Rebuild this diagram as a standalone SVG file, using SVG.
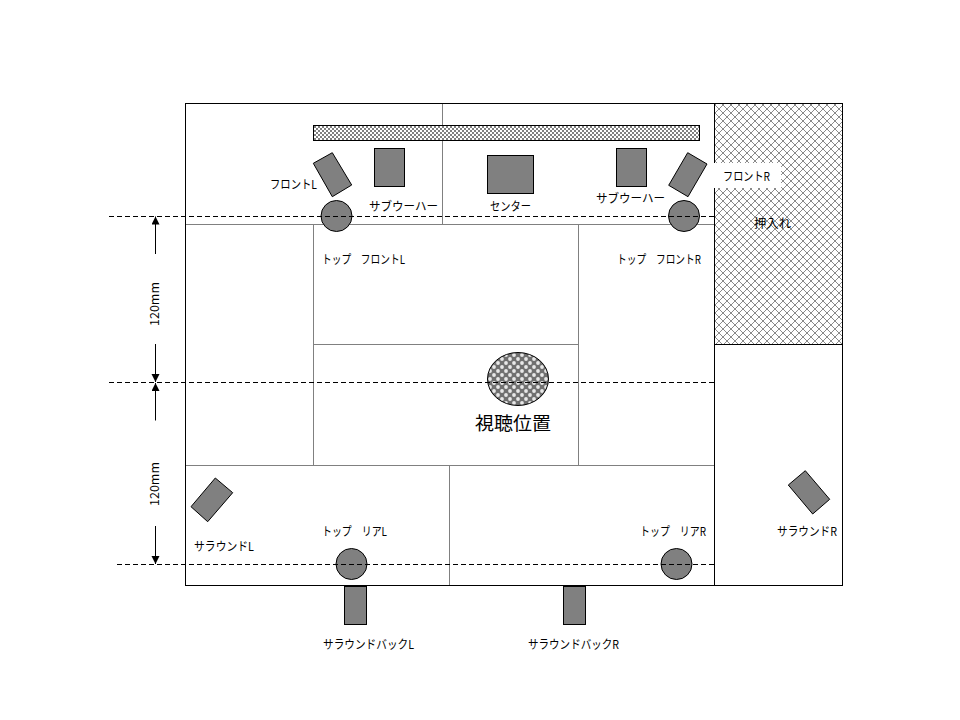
<svg xmlns="http://www.w3.org/2000/svg" width="960" height="720" viewBox="0 0 960 720">
<style>
text{font-family:"Noto Sans CJK JP","Liberation Sans",sans-serif;font-size:12px;fill:#000}
.wall{fill:none;stroke:#000;stroke-width:1}
.thin{fill:none;stroke:#808080;stroke-width:1}
.spk{fill:#808080;stroke:#000;stroke-width:1}
.dash{fill:none;stroke:#000;stroke-width:1;stroke-dasharray:5 3}
.dim{fill:none;stroke:#000;stroke-width:1;marker-end:url(#tip)}
</style>
<defs>
<marker id="tip" markerUnits="userSpaceOnUse" markerWidth="9" markerHeight="9" refX="8" refY="4" orient="auto"><path d="M0 0L8 4L0 8Z" fill="#000"/></marker>
<pattern id="hatch" patternUnits="userSpaceOnUse" x="715" y="105" width="8" height="8">
<rect width="8" height="8" fill="#fff"/>
<path d="M0 0h1v1H0zM1 1h1v1H1zM2 2h1v1H2zM3 3h1v1H3zM4 4h1v1H4zM5 5h1v1H5zM6 6h1v1H6zM7 7h1v1H7zM7 0h1v1H7zM6 1h1v1H6zM5 2h1v1H5zM4 3h1v1H4zM3 4h1v1H3zM2 5h1v1H2zM1 6h1v1H1zM0 7h1v1H0z" fill="#8a8a8a"/>
</pattern>
<pattern id="check" patternUnits="userSpaceOnUse" x="314" y="126" width="4" height="4">
<rect width="4" height="4" fill="#fff"/>
<path d="M0 0h2v2H0zM2 2h2v2H2z" fill="#808080"/>
</pattern>
<pattern id="dots" patternUnits="userSpaceOnUse" x="488" y="353" width="8" height="8">
<rect width="8" height="8" fill="#707070"/>
<circle cx="2" cy="2" r="1.9" fill="#e8e8e8"/>
<circle cx="6" cy="6" r="1.9" fill="#e8e8e8"/>
</pattern>
</defs>
<rect width="960" height="720" fill="#fff"/>
<g id="closet">
<rect x="714.5" y="103.5" width="128" height="241" fill="url(#hatch)" stroke="#000"/>
</g>
<g id="rooms">
<path class="thin" d="M442.5 103V224.5M185 224.5H714M313.5 224V465.5M578.5 224V465.5M313 344.5H578M185 465.5H714M449.5 465V585"/>
<rect class="wall" x="185.5" y="103.5" width="657" height="482"/>
<path class="wall" d="M714.5 103V586"/>
</g>
<g id="label-bg"><rect x="714" y="163" width="67" height="25" fill="#fff"/></g>
<g id="bar"><rect x="313.5" y="125.5" width="386" height="15" fill="url(#check)" stroke="#000"/></g>
<g id="sub-l"><rect class="spk" x="374.5" y="148.5" width="30" height="38"/><text x="369" y="211" textLength="69" lengthAdjust="spacingAndGlyphs">サブウーハー</text></g>
<g id="center"><rect class="spk" x="487.5" y="155.5" width="46" height="38"/><text x="490" y="211" textLength="41" lengthAdjust="spacingAndGlyphs">センター</text></g>
<g id="sub-r"><rect class="spk" x="616.5" y="148.5" width="30" height="38"/><text x="596" y="203" textLength="69" lengthAdjust="spacingAndGlyphs">サブウーハー</text></g>
<g id="front-l"><polygon class="spk" points="313.3,163.3 332.3,152.7 351.7,185 332.3,196.7"/><text x="270" y="189" textLength="47" lengthAdjust="spacingAndGlyphs">フロントL</text></g>
<g id="front-r"><polygon class="spk" points="687.7,152.7 707,164 688,196.7 668.7,185.3"/><text x="723" y="181" textLength="47" lengthAdjust="spacingAndGlyphs">フロントR</text></g>
<g id="closet-label"><text x="754" y="228" textLength="37" lengthAdjust="spacingAndGlyphs">押入れ</text></g>
<g id="top-front-l"><circle class="spk" cx="336.5" cy="216" r="15.5"/><text x="322" y="264" textLength="83" lengthAdjust="spacingAndGlyphs">トップ　フロントL</text></g>
<g id="top-front-r"><circle class="spk" cx="684" cy="216" r="15.5"/><text x="617" y="264" textLength="84" lengthAdjust="spacingAndGlyphs">トップ　フロントR</text></g>
<g id="listener"><ellipse cx="518" cy="379" rx="30.5" ry="26.5" fill="url(#dots)" stroke="#000"/><text x="475" y="430" style="font-size:18.5px" textLength="76" lengthAdjust="spacingAndGlyphs">視聴位置</text></g>
<g id="surround-l"><polygon class="spk" points="215.3,478 232.7,492.7 207.7,521.7 191,506.7"/><text x="194" y="551" textLength="60" lengthAdjust="spacingAndGlyphs">サラウンドL</text></g>
<g id="surround-r"><polygon class="spk" points="805.3,470.7 829.7,499.3 812.7,514 788.3,485"/><text x="777" y="536" textLength="60" lengthAdjust="spacingAndGlyphs">サラウンドR</text></g>
<g id="top-rear-l"><circle class="spk" cx="351.5" cy="564" r="15.5"/><text x="322" y="536" textLength="65" lengthAdjust="spacingAndGlyphs">トップ　リアL</text></g>
<g id="top-rear-r"><circle class="spk" cx="676.5" cy="564" r="15.5"/><text x="640" y="536" textLength="66" lengthAdjust="spacingAndGlyphs">トップ　リアR</text></g>
<g id="back-l"><rect class="spk" x="344.5" y="586.5" width="22" height="38"/><text x="323" y="649" textLength="91" lengthAdjust="spacingAndGlyphs">サラウンドバックL</text></g>
<g id="back-r"><rect class="spk" x="563.5" y="586.5" width="22" height="38"/><text x="528" y="649" textLength="91" lengthAdjust="spacingAndGlyphs">サラウンドバックR</text></g>
<g id="dim-labels">
<text transform="translate(158.5 326) rotate(-90)" textLength="44" lengthAdjust="spacingAndGlyphs">120mm</text>
<text transform="translate(158.5 506) rotate(-90)" textLength="44" lengthAdjust="spacingAndGlyphs">120mm</text>
</g>
<g id="connectors">
<path class="dash" d="M109 216.5H714M109 382.5H714M117 564.5H714"/>
<path class="dim" d="M155.5 254V216.5"/>
<path class="dim" d="M155.5 344V382"/>
<path class="dim" d="M155.5 420.5V383"/>
<path class="dim" d="M155.5 526V564"/>
</g>
</svg>
